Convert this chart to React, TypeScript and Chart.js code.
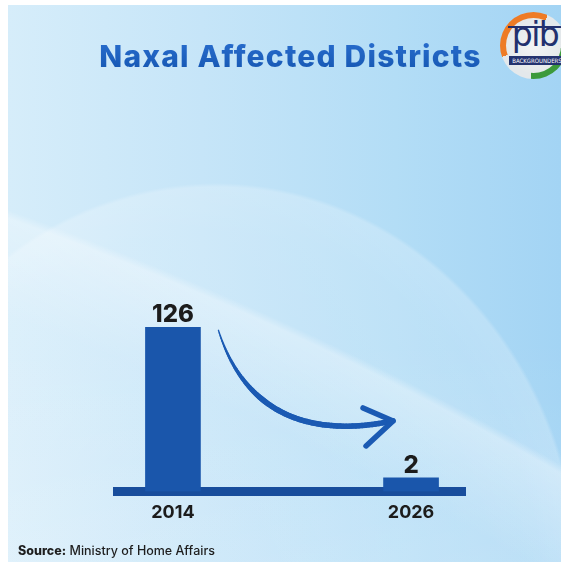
import React, { useEffect, useRef } from "react";
import { Chart, registerables } from "chart.js";

Chart.register(...registerables);

const years = [2014, 2026];
const districts = [126, 2];
const tickYears = [2014, 2026];
const chartTitle = "Naxal Affected Districts";
const sourceLabel = "Source:";
const sourceText = " Ministry of Home Affairs";

const BAR = "#1a56ab";
const BASE = "#184d9c";
const ARROW = "#1b5ab3";
const INK = "#1c1c1c";

const labelPlugin = {
  id: "valueLabels",
  afterDatasetsDraw(chart: any) {
    const ctx = chart.ctx;
    const meta = chart.getDatasetMeta(0);
    ctx.save();
    ctx.fillStyle = INK;
    ctx.font = "800 24px Inter";
    ctx.textAlign = "center";
    ctx.textBaseline = "alphabetic";
    meta.data.forEach((el: any, i: number) => {
      ctx.fillText(String(districts[i]), el.x, el.y - 5);
    });
    ctx.restore();
  },
};

const arrowPlugin = {
  id: "trendArrow",
  afterDatasetsDraw(chart: any) {
    const meta = chart.getDatasetMeta(0);
    const a = meta.data[0];
    const b = meta.data[1];
    if (!a || !b) return;
    const ctx = chart.ctx;
    const sx = a.x + a.width / 2 + 18;
    const sy = a.y + 3;
    const tx = b.x - 18;
    const ty = b.y - 57;
    const dx = tx - sx;
    const dy = ty - sy;
    const p1 = { x: sx + 0.13 * dx, y: sy + 0.8 * dy };
    const p2 = { x: sx + 0.45 * dx, y: sy + 1.22 * dy };
    const pt = (t: number) => {
      const u = 1 - t;
      return {
        x: u * u * u * sx + 3 * u * u * t * p1.x + 3 * u * t * t * p2.x + t * t * t * tx,
        y: u * u * u * sy + 3 * u * u * t * p1.y + 3 * u * t * t * p2.y + t * t * t * ty,
      };
    };
    ctx.save();
    ctx.strokeStyle = ARROW;
    ctx.lineCap = "round";
    ctx.lineJoin = "round";
    const N = 80;
    let prev = pt(0);
    for (let i = 1; i <= N; i++) {
      const t = i / N;
      const p = pt(t);
      ctx.lineWidth = 1.2 + 4.3 * Math.min(1, t / 0.4);
      ctx.beginPath();
      ctx.moveTo(prev.x, prev.y);
      ctx.lineTo(p.x, p.y);
      ctx.stroke();
      prev = p;
    }
    ctx.lineWidth = 5.5;
    ctx.beginPath();
    ctx.moveTo(tx - 30, ty - 13);
    ctx.lineTo(tx, ty);
    ctx.lineTo(tx - 27, ty + 25);
    ctx.stroke();
    ctx.restore();
  },
};

function Logo() {
  return (
    <div
      style={{
        position: "absolute",
        left: 500,
        top: 12,
        width: 67,
        height: 67,
        borderRadius: "50%",
        background:
          "conic-gradient(from 0deg, #ee7b25 0deg 25deg, #e3e8eb 25deg 95deg, #3c9a3b 95deg 185deg, #e3e8eb 185deg 250deg, #ee7b25 250deg 360deg)",
        overflow: "hidden",
      }}
    >
      <div
        style={{
          position: "absolute",
          left: 6,
          top: 6,
          width: 55,
          height: 55,
          borderRadius: "50%",
          background: "radial-gradient(circle at 50% 50%, #f2f4f5 0%, #dfe4e6 100%)",
        }}
      />
      <div
        style={{
          position: "absolute",
          left: 9,
          top: 4,
          width: 52,
          textAlign: "center",
          fontFamily: "DejaVu Sans",
          fontSize: 33,
          lineHeight: "38px",
          color: "#22306e",
          letterSpacing: -1.5,
        }}
      >
        pib
      </div>
      <div
        style={{
          position: "absolute",
          left: 8,
          top: 14,
          width: 54,
          height: 2,
          background: "#22306e",
        }}
      />
      <div
        style={{
          position: "absolute",
          left: 9,
          top: 44,
          width: 56,
          height: 9,
          background: "#24336f",
          color: "#ffffff",
          fontFamily: "DejaVu Sans Condensed",
          fontSize: 6,
          lineHeight: "9px",
          textAlign: "center",
          overflow: "hidden",
          whiteSpace: "nowrap",
        }}
      >
        BACKGROUNDERS
      </div>
    </div>
  );
}

export default function App() {
  const canvasRef = useRef<HTMLCanvasElement | null>(null);

  useEffect(() => {
    if (!canvasRef.current) return;
    const chart = new Chart(canvasRef.current, {
      type: "bar",
      data: {
        datasets: [
          {
            label: chartTitle,
            data: years.map((y, i) => ({ x: y, y: districts[i] })),
            backgroundColor: BAR,
            borderWidth: 0,
            barThickness: 55,
            minBarLength: 13.5,
          },
        ],
      },
      plugins: [labelPlugin, arrowPlugin],
      options: {
        animation: false,
        responsive: true,
        maintainAspectRatio: false,
        layout: { padding: { left: 117, right: 95, top: 296, bottom: 29 } },
        plugins: {
          legend: { display: false },
          tooltip: { enabled: false },
          title: { display: false },
        },
        scales: {
          x: {
            type: "linear",
            min: 2011.18,
            max: 2028.77,
            offset: false,
            afterBuildTicks: (scale: any) => {
              scale.ticks = tickYears.map((v) => ({ value: v }));
            },
            grid: { display: true, drawOnChartArea: false, drawTicks: false, color: "rgba(0,0,0,0)", lineWidth: 0 },
            border: { display: true, color: BASE, width: 9 },
            ticks: {
              color: INK,
              font: { family: "Inter", weight: "bold", size: 18 },
              padding: 10,
              autoSkip: false,
              maxRotation: 0,
              callback: (v: any) => String(v),
            },
          },
          y: { display: false, min: 0, max: 150 },
        },
      } as any,
    });
    return () => chart.destroy();
  }, []);

  return (
    <div style={{ position: "absolute", left: 0, top: 0, width: 561, height: 562, background: "#ffffff", overflow: "hidden" }}>
      <div
        style={{
          position: "absolute",
          left: 8,
          top: 5,
          width: 553,
          height: 557,
          background: [
            "radial-gradient(circle 3487px at -1178px 3492px, rgba(255,255,255,0) 3390px, rgba(255,255,255,0.32) 3484px, rgba(255,255,255,0) 3492px)",
            "radial-gradient(ellipse 364px 400px at 208px 578px, rgba(255,255,255,0.08) 0%, rgba(255,255,255,0.16) 88%, rgba(255,255,255,0.22) 99%, rgba(255,255,255,0) 100%)",
            "linear-gradient(180deg, rgba(255,255,255,0) 60%, rgba(255,255,255,0.12) 100%)",
            "linear-gradient(90deg, #d6edfa 0%, #c6e5f8 35%, #b3ddf6 70%, #a3d4f4 100%)",
          ].join(", "),
        }}
      />
      <div
        style={{
          position: "absolute",
          left: 0,
          top: 38,
          width: 581,
          textAlign: "center",
          fontFamily: "Inter",
          fontWeight: 800,
          fontSize: 30,
          lineHeight: "36px",
          color: "#1a5cc0",
          backgroundImage: "linear-gradient(180deg, #2a6fd0 0%, #1455b0 100%)",
          WebkitBackgroundClip: "text",
          backgroundClip: "text",
          WebkitTextFillColor: "transparent",
          letterSpacing: 1.2,
          whiteSpace: "nowrap",
        }}
      >
        {chartTitle}
      </div>
      <Logo />
      <div style={{ position: "absolute", left: 0, top: 0, width: 561, height: 562 }}>
        <canvas ref={canvasRef} />
      </div>
      <div
        style={{
          position: "absolute",
          left: 18,
          top: 543,
          fontFamily: "Inter",
          fontSize: 12.5,
          lineHeight: "16px",
          color: "#1e1e1e",
          whiteSpace: "nowrap",
        }}
      >
        <span style={{ fontWeight: 800 }}>{sourceLabel}</span>
        <span style={{ fontWeight: 500 }}>{sourceText}</span>
      </div>
    </div>
  );
}
